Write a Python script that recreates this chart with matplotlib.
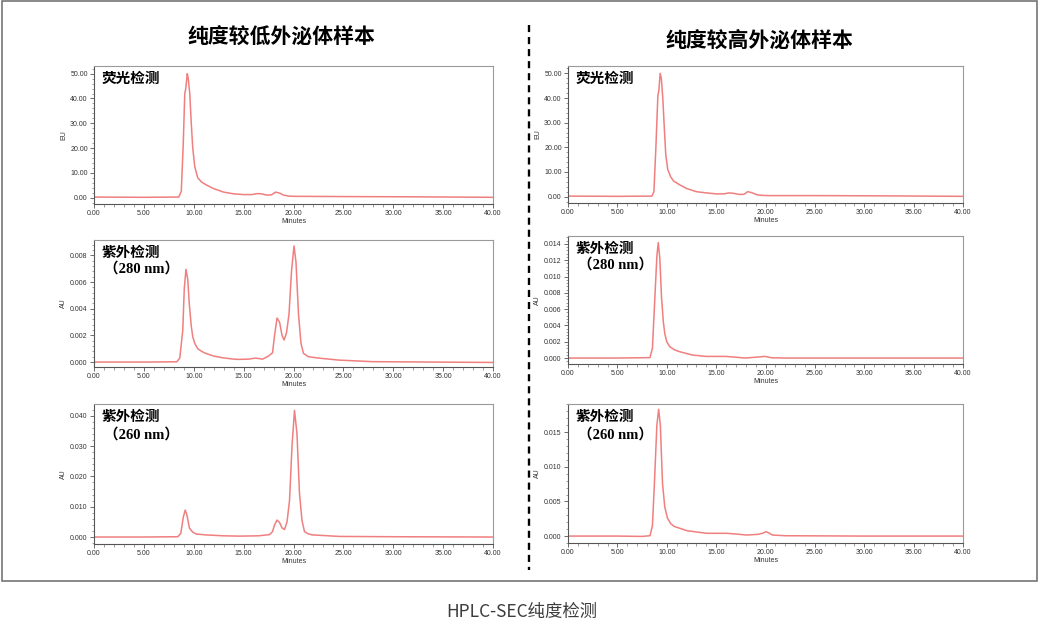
import matplotlib
matplotlib.use('Agg')
import matplotlib.pyplot as plt
from matplotlib.ticker import MultipleLocator, AutoMinorLocator, FormatStrFormatter
from matplotlib.patches import Rectangle
from matplotlib.lines import Line2D

plt.rcParams['font.family'] = ['Noto Sans CJK SC', 'DejaVu Sans']

# ---------------- data ----------------
col_titles = ["纯度较低外泌体样本", "纯度较高外泌体样本"]
panel_labels = ["荧光检测", "紫外检测\n（280 nm）", "紫外检测\n（260 nm）"]
y_units = ["EU", "AU", "AU"]
caption = "HPLC-SEC纯度检测"

# low purity, fluorescence
t_fl_low = [0, 5, 8.5, 8.75, 8.95, 9.1, 9.2, 9.35, 9.45, 9.6, 9.75, 9.9, 10.1, 10.4, 10.8, 11.3, 12.0, 13.0, 14.0,
            15.0, 15.8, 16.4, 16.8, 17.3, 17.8, 18.2, 18.6, 19.0, 19.5, 20.0, 25.0, 32.0, 40.0]
y_fl_low = [0.2, 0.1, 0.2, 2.5, 22, 42, 44, 50, 48, 42, 30, 20, 12.5, 8, 6.2, 5.0, 3.6, 2.2, 1.5,
            1.2, 1.2, 1.6, 1.5, 1.0, 1.1, 2.2, 1.8, 1.0, 0.6, 0.5, 0.4, 0.3, 0.1]
# high purity, fluorescence
t_fl_high = [0, 5, 8.5, 8.7, 8.9, 9.1, 9.2, 9.33, 9.45, 9.6, 9.75, 9.9, 10.1, 10.4, 10.7, 11.3, 12.0, 13.0, 14.0,
             15.0, 15.8, 16.3, 16.8, 17.3, 17.8, 18.2, 18.6, 19.1, 19.6, 20.5, 25.0, 32.0, 40.0]
y_fl_high = [0.2, 0.1, 0.2, 2.0, 20, 41, 43, 50, 48, 40, 28, 17, 11, 8, 6.3, 4.8, 3.3, 2.0, 1.5,
             1.1, 1.1, 1.5, 1.3, 0.9, 0.9, 2.0, 1.6, 0.8, 0.5, 0.4, 0.4, 0.3, 0.1]
# low purity, UV 280 nm
t_uv280_low = [0, 5, 8.3, 8.6, 8.9, 9.05, 9.22, 9.4, 9.55, 9.75, 9.9, 10.1, 10.4, 10.8, 11.2, 12.0, 12.9, 14.0, 14.5,
               15.5, 16.2, 16.9, 17.5, 17.9, 18.1, 18.35, 18.6, 18.85, 19.05, 19.3, 19.55, 19.8, 20.05, 20.25,
               20.5, 20.75, 21.0, 21.5, 22.5, 24.5, 27.9, 40.0]
y_uv280_low = [0.0, 0.0, 0.00002, 0.0003, 0.0024, 0.0055, 0.00695, 0.0062, 0.0044, 0.0027, 0.0019, 0.0014, 0.001,
               0.0008, 0.00065, 0.00045, 0.00032, 0.00022, 0.0002, 0.00022, 0.0003, 0.00022, 0.00045, 0.0007,
               0.0020, 0.0033, 0.0030, 0.0020, 0.00165, 0.0022, 0.0036, 0.0068, 0.0087, 0.0075, 0.0036, 0.0014,
               0.00065, 0.0004, 0.0003, 0.00015, 0.00003, -0.00003]
# low purity, UV 260 nm
t_uv260_low = [0, 5, 8.4, 8.7, 8.95, 9.14, 9.3, 9.57, 9.9, 10.24, 11.2, 13.0, 14.6, 16.5, 17.6, 17.9, 18.1, 18.35,
               18.6, 18.85, 19.1, 19.35, 19.6, 19.85, 20.1, 20.35, 20.6, 20.85, 21.1, 21.5, 21.9, 24.6, 30.0, 40.0]
y_uv260_low = [0.0, 0.0, 0.0001, 0.0012, 0.0065, 0.0089, 0.0075, 0.0029, 0.0016, 0.001, 0.0007, 0.0004, 0.0003,
               0.0004, 0.0008, 0.0018, 0.0040, 0.0056, 0.0048, 0.0030, 0.0025, 0.0050, 0.012, 0.030, 0.0418,
               0.034, 0.0144, 0.0055, 0.0018, 0.001, 0.0007, 0.0002, 0.0001, 0.0]
# high purity, UV 280 nm
t_uv280_high = [0, 5, 8.3, 8.55, 8.8, 9.0, 9.14, 9.3, 9.47, 9.65, 9.8, 10.0, 10.3, 10.8, 11.3, 12.6, 14.0, 16.0, 17.0,
                17.95, 19.0, 19.95, 20.6, 22.0, 30.0, 40.0]
y_uv280_high = [0.0, 0.0, 0.00005, 0.0012, 0.0075, 0.0125, 0.01416, 0.0122, 0.0075, 0.0045, 0.003, 0.002, 0.0014,
                0.001, 0.00078, 0.00037, 0.0002, 0.0002, 0.0001, 0.0, 0.0001, 0.0002, 0.00004, 0.0, 0.0, 0.0]
# high purity, UV 260 nm
t_uv260_high = [0, 5, 7.5, 8.3, 8.55, 8.75, 9.0, 9.18, 9.35, 9.57, 9.8, 10.07, 10.4, 10.74, 12.07, 14.06, 16.06,
                17.0, 18.05, 19.2, 19.7, 20.05, 20.4, 20.7, 22.0, 30.0, 40.0]
y_uv260_high = [0.0, 0.0, -0.00005, 0.00005, 0.0015, 0.0076, 0.016, 0.0183, 0.016, 0.0076, 0.0042, 0.0026,
                0.0018, 0.0014, 0.00077, 0.0004, 0.0004, 0.0003, 0.00015, 0.00024, 0.0004, 0.00063, 0.0004,
                0.00015, 0.00005, 0.0, 0.0]

series = [[(t_fl_low, y_fl_low), (t_uv280_low, y_uv280_low), (t_uv260_low, y_uv260_low)],
          [(t_fl_high, y_fl_high), (t_uv280_high, y_uv280_high), (t_uv260_high, y_uv260_high)]]

# ---------------- layout / style ----------------
W, H = 1044, 631
fig = plt.figure(figsize=(W / 100, H / 100), dpi=100)

def frac_rect(x0, y0, x1, y1):
    return [x0 / W, 1 - y1 / H, (x1 - x0) / W, (y1 - y0) / H]

rects = [[(94, 66, 493, 204), (94, 240, 493, 367), (94, 404, 493, 544)],
         [(568, 66, 963, 203), (568, 236, 963, 364), (568, 404, 963, 543)]]
ylims = [[(-2.6, 53.1), (-0.00037, 0.00915), (-0.0023, 0.0439)],
         [(-2.6, 53.0), (-0.00073, 0.01497), (-0.001, 0.01907)]]
ysteps = [[10, 0.002, 0.01], [10, 0.002, 0.005]]
yfmts = [["%.2f", "%.3f", "%.3f"], ["%.2f", "%.3f", "%.3f"]]

line_color = "#f07f7f"
tick_family = ['Liberation Sans', 'DejaVu Sans']

for c in range(2):
    for r in range(3):
        ax = fig.add_axes(frac_rect(*rects[c][r]))
        t, y = series[c][r]
        ax.plot(t, y, color=line_color, lw=1.1)
        ax.set_xlim(0, 40)
        ax.set_ylim(*ylims[c][r])
        ax.xaxis.set_major_locator(MultipleLocator(5))
        ax.xaxis.set_minor_locator(AutoMinorLocator(5))
        ax.yaxis.set_major_locator(MultipleLocator(ysteps[c][r]))
        ax.yaxis.set_minor_locator(AutoMinorLocator(5))
        ax.xaxis.set_major_formatter(FormatStrFormatter("%.2f"))
        ax.yaxis.set_major_formatter(FormatStrFormatter(yfmts[c][r]))
        ax.tick_params(which='major', direction='out', length=3, width=0.6, color="#555555", pad=1.5)
        ax.tick_params(which='minor', direction='out', length=1.8, width=0.5, color="#777777")
        for lab in ax.get_xticklabels() + ax.get_yticklabels():
            lab.set_fontfamily(tick_family)
            lab.set_fontsize(5.0)
            lab.set_color("#333333")
        for sp in ax.spines.values():
            sp.set_color("#9a9a9a")
            sp.set_linewidth(0.8)
        ax.spines['left'].set_color("#555555")
        ax.spines['bottom'].set_color("#555555")
        ax.set_xlabel("Minutes", fontfamily=tick_family, fontsize=5.0, color="#333333", labelpad=0.5)
        ax.set_ylabel(y_units[r], fontfamily=tick_family, fontsize=5.0, color="#333333", labelpad=2)
        lines = panel_labels[r].split("\n")
        ax.text(0.018, 0.97, lines[0], transform=ax.transAxes, ha='left', va='top',
                fontsize=10.5, fontweight='bold', color='black',
                family=['Noto Sans CJK SC', 'DejaVu Sans'])
        if len(lines) > 1:
            ax.text(0.026, 0.83, lines[1], transform=ax.transAxes, ha='left', va='top',
                    fontsize=10.5, fontweight='bold', color='black',
                    family=['Liberation Serif', 'Noto Sans CJK SC'])

# column titles
fig.text(281 / W, 1 - 37 / H, col_titles[0], ha='center', va='center', fontsize=15, fontweight='bold',
         color='black')
fig.text(759 / W, 1 - 40 / H, col_titles[1], ha='center', va='center', fontsize=15, fontweight='bold',
         color='black')

# dashed separator
fig.add_artist(Line2D([529 / W, 529 / W], [1 - 25 / H, 1 - 570 / H], transform=fig.transFigure,
                      color='black', lw=1.7, linestyle=(0, (3, 2.1))))

# outer frame
fig.add_artist(Rectangle((2 / W, 1 - 581 / H), 1035 / W, 580 / H, transform=fig.transFigure,
                         fill=False, edgecolor="#6a6a6a", lw=1.1))

# caption
fig.text(522 / W, 1 - 612 / H, caption, ha='center', va='center', fontsize=12.5, color="#3c3c3c")

fig.savefig("out.png", dpi=100)
